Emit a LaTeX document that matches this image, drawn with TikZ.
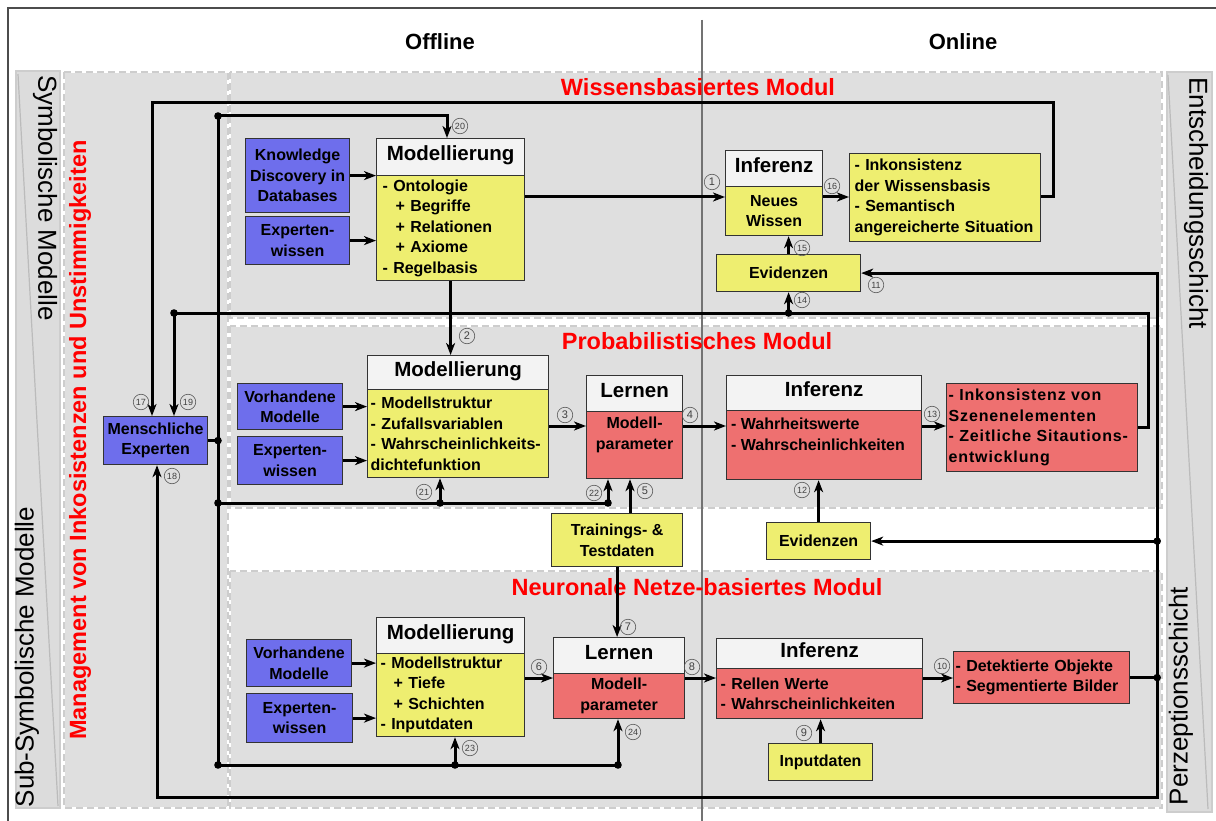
\documentclass[tikz,border=0pt]{standalone}
\usepackage{fontspec}
\setmainfont{Liberation Sans}
\usetikzlibrary{arrows.meta,calc}
\definecolor{cblue}{HTML}{6E6EEC}
\definecolor{cyel}{HTML}{EEEE70}
\definecolor{cred}{HTML}{EE7070}
\definecolor{pgray}{HTML}{DFDFDF}
\definecolor{dgray}{HTML}{CDCDCD}
\definecolor{hdr}{HTML}{F3F3F3}
\definecolor{sgray}{HTML}{DCDCDC}
\definecolor{slant}{HTML}{BBBBBB}
\definecolor{titred}{HTML}{FF0000}
\newcommand{\setfs}[2]{\fontsize{#1}{#2}\selectfont}
\begin{document}
\begin{tikzpicture}[x=1pt,y=-1pt,
  panel/.style={fill=pgray, draw=white, line width=2.5pt,
    postaction={draw=dgray, line width=2.5pt, dash pattern=on 7pt off 4pt}},
  sidecol/.style={fill=sgray, draw=dgray, line width=1.2pt},
  box/.style={draw=black!80, line width=1.2pt, inner sep=0pt, anchor=north west,
    font=\bfseries\setfs{16}{20.5}, align=center},
  bluebox/.style={box, fill=cblue},
  yelbox/.style={box, fill=cyel},
  redbox/.style={box, fill=cred},
  hdbox/.style={box, fill=hdr, font=\bfseries\setfs{20.5}{24}, text height=15pt, text depth=8pt},
  btxt/.style={inner sep=0pt, font=\bfseries\setfs{16}{20.5}},
  wire/.style={line width=3pt},
  arr/.style={wire, -{Stealth[length=12pt,width=9pt,inset=3.5pt]}},
  cnum/.style={circle, draw=black!65, line width=0.6pt, minimum size=15.5pt, inner sep=0pt,
    text=black!75, font=\setfs{11}{11}},
  cnumw/.style={cnum, font=\setfs{9}{9}},
  modtitle/.style={text=titred, font=\bfseries\setfs{23.5}{26}},
  coltitle/.style={font=\bfseries\setfs{22}{24}},
  sidetxt/.style={font=\setfs{26}{28}},
]
\useasboundingbox (0,0) rectangle (1216,821);
\fill[white] (0,0) rectangle (1216,821);
\clip (0,0) rectangle (1216,821);

% frame and background areas
\draw[black!70, line width=1.2pt] (8,8) rectangle (1240,840);
\path[sidecol] (16,71) rectangle (60,808);
\draw[slant, line width=1.2pt] (18,74) -- (58,806);
\path[sidecol] (1167,72) rectangle (1212,812);
\draw[slant, line width=1.2pt] (1168,75) -- (1208,809);
\path[panel] (64,72) rectangle (228,808);
\path[panel] (230,72) rectangle (1162,318);
\path[panel] (230,326) rectangle (1162,508);
\path[panel] (230,571) rectangle (1162,808);

% offline / online divider
\draw[black!55, line width=1.5pt] (702,20) -- (702,821);

% titles
\node[coltitle] (offl) at (440,42) {Offline};
\node[coltitle] (onl) at (963,42) {Online};
\node[modtitle] (tw) at (698,87) {Wissensbasiertes Modul};
\node[modtitle] (tp) at (697,341) {Probabilistisches Modul};
\node[modtitle] (tn) at (697,587) {Neuronale Netze-basiertes Modul};
\node[sidetxt, rotate=-90] (ls1) at (45,198) {Symbolische Modelle};
\node[sidetxt, rotate=90] (ls2) at (27,657) {Sub-Symbolische Modelle};
\node[sidetxt, rotate=-90] (rs1) at (1196,203) {Entscheidungsschicht};
\node[sidetxt, rotate=90] (rs2) at (1181,696) {Perzeptionsschicht};
\node[modtitle, rotate=90] (mgmt) at (80,440) {Management von Inkosistenzen und Unstimmigkeiten};

% knowledge based module
\node[bluebox, minimum width=104pt, minimum height=74pt] (kdd) at (245,138) {Knowledge\\Discovery in\\Databases};
\node[bluebox, minimum width=104pt, minimum height=48pt] (wexp) at (245,216) {Experten-\\wissen};
\node[hdbox, minimum width=148pt, minimum height=37pt] (wmodH) at (376,138) {Modellierung};
\node[yelbox, text width=136pt, inner xsep=6pt, minimum height=105pt, align=left] (wmod) at (376,175)
  {- Ontologie\\\hspace*{13pt}+ Begriffe\\\hspace*{13pt}+ Relationen\\\hspace*{13pt}+ Axiome\\- Regelbasis};
\node[hdbox, minimum width=97pt, minimum height=36pt] (winfH) at (725,150) {Inferenz};
\node[yelbox, minimum width=97pt, minimum height=49pt] (winf) at (725,186) {Neues\\Wissen};
\node[yelbox, text width=181pt, inner xsep=5pt, minimum height=88pt, align=left] (wout) at (849,153)
  {- Inkonsistenz\\der Wissensbasis\\- Semantisch\\angereicherte Situation};
\node[yelbox, minimum width=144pt, minimum height=37pt] (wevi) at (716,254) {Evidenzen};

% human experts
\node[bluebox, minimum width=104pt, minimum height=48pt] (mexp) at (103,416) {Menschliche\\Experten};

% probabilistic module
\node[bluebox, minimum width=105pt, minimum height=46pt] (pvor) at (237,383) {Vorhandene\\Modelle};
\node[bluebox, minimum width=105pt, minimum height=48pt] (pexp) at (237,436) {Experten-\\wissen};
\node[hdbox, minimum width=181pt, minimum height=34pt] (pmodH) at (367,355) {Modellierung};
\node[yelbox, text width=175pt, inner xsep=3pt, minimum height=88pt, align=left] (pmod) at (367,389)
  {- Modellstruktur\\- Zufallsvariablen\\- Wahrscheinlichkeits-\\dichtefunktion};
\node[hdbox, minimum width=96pt, minimum height=36pt] (plerH) at (586,375) {Lernen};
\node[redbox, minimum width=96pt, minimum height=67pt] (pler) at (586,411) {};
\node[btxt, anchor=north, align=center] (plerT) at ($(pler.north)+(0,6)$) {Modell-\\parameter};
\node[hdbox, minimum width=195pt, minimum height=35pt] (pinfH) at (726,375) {Inferenz};
\node[redbox, minimum width=195pt, minimum height=69pt] (pinf) at (726,410) {};
\node[btxt, anchor=north west, align=left] (pinfT) at ($(pinf.north west)+(5,8)$) {- Wahrheitswerte\\- Wahrscheinlichkeiten};
\node[redbox, text width=187pt, inner xsep=2pt, minimum height=88pt, align=left,
  font=\bfseries\setfs{16}{20.5}\addfontfeatures{LetterSpace=5.5}] (pout) at (946,383)
  {- Inkonsistenz von\\Szenenelementen\\- Zeitliche Sitautions-\\entwicklung};
\node[yelbox, minimum width=104pt, minimum height=37pt] (pevi) at (766,522) {Evidenzen};
\node[yelbox, minimum width=131pt, minimum height=53pt] (train) at (551,513) {Trainings- \&\\Testdaten};

% neural network module
\node[bluebox, minimum width=105pt, minimum height=47pt] (nvor) at (246,639) {Vorhandene\\Modelle};
\node[bluebox, minimum width=106pt, minimum height=49pt] (nexp) at (246,693) {Experten-\\wissen};
\node[hdbox, minimum width=148pt, minimum height=36pt] (nmodH) at (376,617) {Modellierung};
\node[yelbox, text width=140pt, inner xsep=4pt, minimum height=83pt, align=left] (nmod) at (376,653)
  {- Modellstruktur\\\hspace*{13pt}+ Tiefe\\\hspace*{13pt}+ Schichten\\- Inputdaten};
\node[hdbox, minimum width=131pt, minimum height=36pt] (nlerH) at (553,637) {Lernen};
\node[redbox, minimum width=131pt, minimum height=45pt] (nler) at (553,673) {Modell-\\parameter};
\node[hdbox, minimum width=206pt, minimum height=30pt] (ninfH) at (716,638) {Inferenz};
\node[redbox, text width=198pt, inner xsep=4pt, minimum height=50pt, align=left] (ninf) at (716,668)
  {- Rellen Werte\\- Wahrscheinlichkeiten};
\node[redbox, text width=172pt, inner xsep=2pt, minimum height=52pt, align=left] (nout) at (953,651)
  {- Detektierte Objekte\\- Segmentierte Bilder};
\node[yelbox, minimum width=104pt, minimum height=37pt] (ninp) at (768,743) {Inputdaten};

% junctions and bends
\coordinate (c1) at ($(winf.north west)+(0,11)$);
\coordinate (c3) at ($(pler.north west)+(0,15)$);
\coordinate (c6) at ($(nler.north west)+(0,5)$);
\coordinate (t17) at ($(mexp.north west)+(49,0)$);
\coordinate (t19) at ($(mexp.north west)+(71,0)$);
\coordinate (t18) at ($(mexp.south west)+(54,0)$);
\coordinate (t20) at ($(wmodH.north west)+(71,0)$);
\coordinate (t5) at ($(train.north west)+(79,0)$);
\coordinate (yTop) at (0,103);
\coordinate (yBot) at (0,797);
\coordinate (j20) at (218,116);
\coordinate (jN) at (218,765);
\coordinate (jM) at (jN |- mexp.east);
\coordinate (jP) at (218,503);
\coordinate (jPm) at (440,503);
\coordinate (jPl) at (608,503);
\coordinate (jNm) at (455,765);
\coordinate (jNl) at (618,765);
\coordinate (j19) at (174,313);
\coordinate (j14) at (wevi.south |- j19);
\coordinate (jO) at ($(nout.east)+(27,0)$);
\coordinate (jR) at (jO |- pevi.east);

% inputs into modelling
\draw[arr] (kdd.east) -- (kdd.east -| wmod.west);
\draw[arr] (wexp.east) -- (wexp.east -| wmod.west);
\draw[arr] (pvor.east) -- (pvor.east -| pmod.west);
\draw[arr] (pexp.east) -- (pexp.east -| pmod.west);
\draw[arr] (nvor.east) -- (nvor.east -| nmod.west);
\draw[arr] (nexp.east) -- (nexp.east -| nmod.west);

% knowledge based chain
\draw[arr] (wmod.east |- c1) -- (c1);
\draw[arr] (winf.east |- c1) -- (wout.west |- c1);
\draw[arr] (wout.east |- c1) -- ++(12,0) |- (t17 |- yTop) -- (t17);
\draw[arr] (wevi.north) -- (wevi.north |- winf.south);
\draw[arr] (j14) -- (wevi.south);
\draw[arr] (wmod.south) -- (wmod.south |- pmodH.north);

% probabilistic chain
\draw[arr] (pmod.east |- c3) -- (c3);
\draw[arr] (pler.east |- c3) -- (pinf.west |- c3);
\draw[arr] (pinf.east |- c3) -- (pout.west |- c3);
\draw[arr] (pout.east) -- ++(10,0) |- (j19) -- (t19);
\draw[arr] (pevi.north) -- (pevi.north |- pinf.south);
\draw[arr] (t5) -- (t5 |- pler.south);
\draw[arr] (train.south) -- (train.south |- nlerH.north);

% neural chain
\draw[arr] (nmod.east |- c6) -- (c6);
\draw[arr] (nler.east |- c6) -- (ninf.west |- c6);
\draw[arr] (ninf.east |- c6) -- (nout.west |- c6);
\draw[arr] (ninp.north) -- (ninp.north |- ninf.south);

% perception bus
\draw[wire] (nout.east) -- (jO);
\draw[arr] (jO) |- (wevi.east);
\draw[arr] (jR) -- (pevi.east);
\draw[arr] (jO) |- (t18 |- yBot) -- (t18);

% expert feedback bus
\draw[wire] (mexp.east) -- (jM);
\draw[wire] (j20) -- (jN);
\draw[arr] (j20) -| (t20);
\draw[wire] (jP) -- (jPl);
\draw[arr] (jPm) -- (jPm |- pmod.south);
\draw[arr] (jPl) -- (jPl |- pler.south);
\draw[wire] (jN) -- (jNl);
\draw[arr] (jNm) -- (jNm |- nmod.south);
\draw[arr] (jNl) -- (jNl |- nler.south);

\foreach \p in {j20,jM,jP,jPm,jPl,jN,jNm,jNl,j19,j14,jO,jR}
  \fill (\p) circle (3.8pt);

% step numbers
\node[cnum] (n1) at (712,182) {1};
\node[cnum] (n2) at (467,336) {2};
\node[cnum] (n3) at (565,415) {3};
\node[cnum] (n4) at (690,415) {4};
\node[cnum] (n5) at (645,491) {5};
\node[cnum] (n6) at (539,667) {6};
\node[cnum] (n7) at (628,627) {7};
\node[cnum] (n8) at (692,667) {8};
\node[cnum] (n9) at (804,733) {9};
\node[cnumw] (n10) at (942,666) {10};
\node[cnumw] (n11) at (876,285) {11};
\node[cnumw] (n12) at (802,490) {12};
\node[cnumw] (n13) at (932,414) {13};
\node[cnumw] (n14) at (802,300) {14};
\node[cnumw] (n15) at (802,248) {15};
\node[cnumw] (n16) at (832,186) {16};
\node[cnumw] (n17) at (141,402) {17};
\node[cnumw] (n18) at (172,476) {18};
\node[cnumw] (n19) at (188,402) {19};
\node[cnumw] (n20) at (460,126) {20};
\node[cnumw] (n21) at (424,492) {21};
\node[cnumw] (n22) at (594,493) {22};
\node[cnumw] (n23) at (470,748) {23};
\node[cnumw] (n24) at (633,732) {24};
\end{tikzpicture}
\end{document}
